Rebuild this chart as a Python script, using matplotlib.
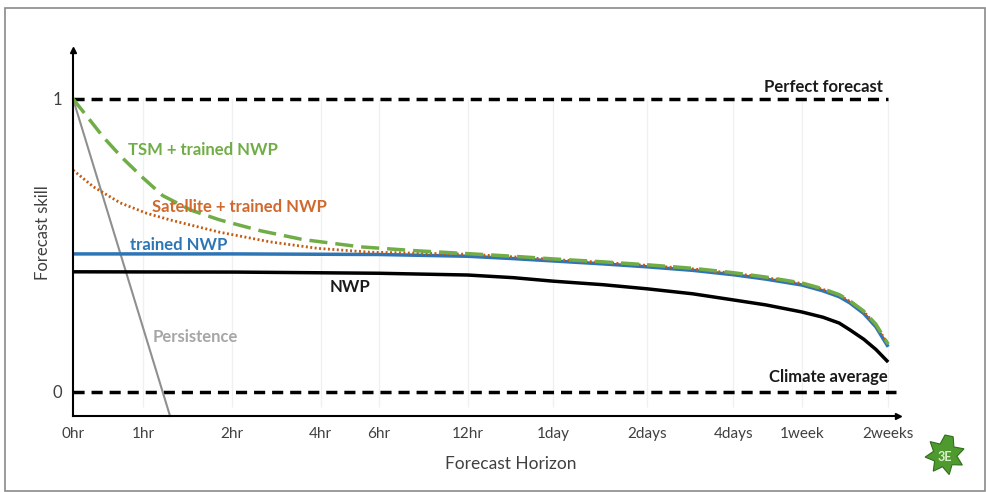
import numpy as np
import matplotlib.pyplot as plt
from matplotlib.patches import Rectangle, Polygon

plt.rcParams['font.family'] = ['Lato', 'DejaVu Sans']

# horizon ticks (axis units, 0hr .. 2weeks)
tick_labels = ['0hr', '1hr', '2hr', '4hr', '6hr', '12hr', '1day', '2days', '4days', '1week', '2weeks']
tick_pos = [0, 0.86, 1.95, 3.04, 3.75, 4.84, 5.89, 7.04, 8.10, 8.94, 10.0]

# shared horizon points for the long-range part
tail_x = [4.84, 5.4, 5.89, 6.5, 7.04, 7.6, 8.10, 8.5, 8.94, 9.2, 9.4, 9.53, 9.7, 9.85, 10.0]

# NWP (black)
nwp_x = [0, 2.0, 3.75] + tail_x
nwp_y = [0.41, 0.409, 0.405,
         0.399, 0.39, 0.378, 0.366, 0.352, 0.335, 0.314, 0.297, 0.273, 0.255, 0.235, 0.212, 0.180, 0.145, 0.102]

# trained NWP (blue)
tnwp_x = [0, 2.0, 3.75] + tail_x
tnwp_y = [0.471, 0.471, 0.469,
          0.463, 0.455, 0.447, 0.437, 0.427, 0.415, 0.400, 0.385, 0.365, 0.345, 0.325, 0.304, 0.268, 0.222, 0.154]

# TSM + trained NWP (green dashed)
tsm_x = [0, 0.2, 0.37, 0.6, 0.86, 1.10, 1.45, 1.80, 2.3, 2.82, 3.53, 4.2] + tail_x
tsm_y = [1.0, 0.93, 0.87, 0.80, 0.73, 0.67, 0.62, 0.587, 0.55, 0.52, 0.495, 0.482,
         0.472, 0.463, 0.454, 0.444, 0.434, 0.422, 0.407, 0.392, 0.372, 0.352, 0.332, 0.311, 0.276, 0.231, 0.163]

# Satellite + trained NWP (orange dotted)
sat_x = [0, 0.25, 0.58, 0.9, 1.19, 1.8, 2.42, 3.0, 3.64] + tail_x
sat_y = [0.757, 0.70, 0.645, 0.61, 0.587, 0.545, 0.512, 0.49, 0.477,
         0.470, 0.461, 0.452, 0.442, 0.432, 0.420, 0.405, 0.390, 0.370, 0.350, 0.330, 0.309, 0.274, 0.229, 0.161]

# Persistence (grey)
pers_x = [0, 1.19]
pers_y = [1.0, -0.082]

fig = plt.figure(figsize=(9.87, 4.92), dpi=100)
ax = fig.add_axes([0.0740, 0.1545, 0.836, 0.744])
ax.set_xlim(0, 10.123)
ax.set_ylim(-0.082, 1.167)

for s in ['top', 'right']:
    ax.spines[s].set_visible(False)
for s in ['left', 'bottom']:
    ax.spines[s].set_linewidth(1.5)
    ax.spines[s].set_color('black')
ax.plot(1, -0.082, '>k', ms=5, transform=ax.get_yaxis_transform(), clip_on=False)
ax.plot(0, 1, '^k', ms=4, transform=ax.get_xaxis_transform(), clip_on=False)

# faint gridlines
ax.vlines(tick_pos[1:], -0.05, 1.0, color='#f0f0f0', lw=1, zorder=0)

ax.plot([0, 10.0], [1, 1], color='black', lw=2.5, dashes=(3.2, 2.0))
ax.plot([0, 10.1], [0, 0], color='black', lw=2.5, dashes=(3.2, 2.0))

ax.plot(pers_x, pers_y, color='#8f8f8f', lw=1.5, clip_on=False)
ax.plot(nwp_x, nwp_y, color='black', lw=2.5, solid_capstyle='butt')
ax.plot(tnwp_x, tnwp_y, color='#2E75B6', lw=2.5, solid_capstyle='butt')
ax.plot(sat_x, sat_y, color='#C55A11', lw=2, dashes=(0.7, 0.9))
ax.plot(tsm_x, tsm_y, color='#70AD47', lw=2.5, dashes=(5.2, 2.3))

ax.set_xticks(tick_pos)
ax.set_xticklabels(tick_labels)
ax.set_yticks([0, 1])
ax.set_yticklabels(['0', '1'])
ax.tick_params(length=0, labelsize=11, colors='#404040', pad=8)
ax.tick_params(axis='y', pad=8, labelsize=12)

ax.set_xlabel('Forecast Horizon', fontsize=12.5, color='#404040', labelpad=10)
ax.xaxis.set_label_coords(0.53, -0.11)
ax.set_ylabel('Forecast skill', fontsize=12, color='#404040')
ax.yaxis.set_label_coords(-0.027, 0.5)

lab = dict(va='center', fontsize=12, fontweight='bold')
ax.text(9.93, 1.041, 'Perfect forecast', ha='right', color='#1a1a1a', **lab)
ax.text(9.99, 0.051, 'Climate average', ha='right', color='#1a1a1a', **lab)
ax.text(0.675, 0.826, 'TSM + trained NWP', ha='left', color='#70AD47', **lab)
ax.text(0.97, 0.631, 'Satellite + trained NWP', ha='left', color='#D0692E', **lab)
ax.text(0.70, 0.502, 'trained NWP', ha='left', color='#2E75B6', **lab)
ax.text(3.15, 0.358, 'NWP', ha='left', color='#1a1a1a', **lab)
ax.text(0.98, 0.188, 'Persistence', ha='left', color='#a6a6a6', **lab)

# outer frame
fig.patches.append(Rectangle((5 / 987, 1 / 492), 980 / 987, 483 / 492, transform=fig.transFigure,
                             fill=False, ec='#8a8a8a', lw=1.2))

# leaf logo
cx, cy = 945 / 987, 1 - 455 / 492
ang = np.linspace(0, 2 * np.pi, 15, endpoint=False) + np.pi / 2
rad = np.where(np.arange(15) % 2 == 0, 20, 12)
pts = np.column_stack([cx + rad * np.cos(ang) / 987, cy + rad * np.sin(ang) / 492])
fig.patches.append(Polygon(pts, closed=True, transform=fig.transFigure, fc='#4f9a2f', ec='#2f6f1a', lw=0.8))
fig.text(cx, cy - 0.004, '3E', ha='center', va='center', fontsize=9, fontweight='bold', color='#d8f0c8')

fig.savefig('out.png', dpi=100, facecolor='white')
